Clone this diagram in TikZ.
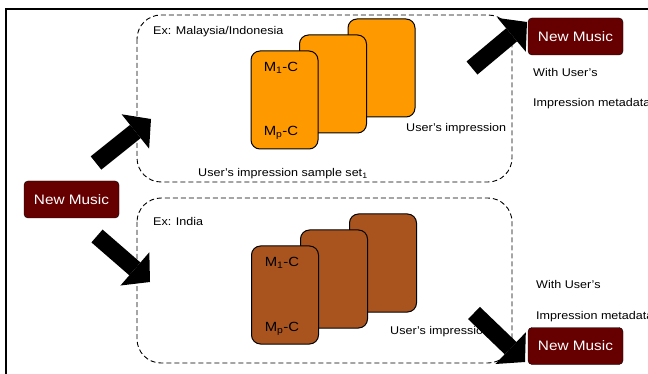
\documentclass[tikz,border=0pt]{standalone}
\usepackage{fontspec}
\setmainfont{Liberation Sans}[FakeStretch=1.12]
\usetikzlibrary{arrows.meta}
\definecolor{nmred}{HTML}{660000}
\definecolor{cardorange}{HTML}{FF9900}
\definecolor{cardbrown}{HTML}{A9541F}
\tikzset{
  musicbox/.style={draw=black,fill=nmred,text=white,rounded corners=4pt,
    minimum width=95pt,minimum height=37pt,font=\fontsize{13.7}{16}\selectfont},
  card/.style={draw=black,line width=1pt,rounded corners=9pt,
    minimum width=67pt,minimum height=98pt},
  region/.style={draw=black,line width=0.9pt,dash pattern=on 5pt off 3pt,rounded corners=24pt},
  lbl/.style={anchor=west,inner sep=0pt,text=black,font=\fontsize{11.2}{13}\selectfont},
  mlbl/.style={inner sep=0pt,text=black,font=\fontsize{13.3}{15}\selectfont},
  blockarrow/.style={line width=17pt,-{Triangle[length=20pt,width=44pt,line width=0pt]}},
}
\begin{document}
\begin{tikzpicture}[x=1pt,y=-1pt]
 \useasboundingbox (0,0) rectangle (648,374);
 \clip (0,0) rectangle (648,374);
 \draw[line width=1.6pt] (6,380) -- (6,9) -- (660,9);
 % sample regions
 \draw[region] (137,15) rectangle (512,182);
 \draw[region] (137,198) rectangle (512,363);
 % cards, upper set
 \node[card,fill=cardorange] (oback) at (381.5,68) {};
 \node[card,fill=cardorange] (omid) at (333,84) {};
 \node[card,fill=cardorange] (ofront) at (284.5,100) {};
 \node[mlbl] (om1) at (281,68) {M\textsubscript{1}-C};
 \node[mlbl] (omp) at (281,133) {M\textsubscript{p}-C};
 % cards, lower set
 \node[card,fill=cardbrown] (bback) at (383,263) {};
 \node[card,fill=cardbrown] (bmid) at (334,279) {};
 \node[card,fill=cardbrown] (bfront) at (285,295) {};
 \node[mlbl] (bm1) at (282,263) {M\textsubscript{1}-C};
 \node[mlbl] (bmp) at (282,329) {M\textsubscript{p}-C};
 % texts
 \node[lbl] (exmy) at (153,32) {Ex: Malaysia/Indonesia};
 \node[lbl] (exin) at (153,221) {Ex: India};
 \node[lbl] (uio) at (406,129) {User’s impression};
 \node[lbl] (uib) at (390,332) {User’s impression};
 \node[lbl] (sset) at (198,174) {User’s impression sample set\textsubscript{1}};
 \node[lbl] (wu1) at (533,72) {With User’s};
 \node[lbl] (im1) at (533,104) {Impression metadata};
 \node[lbl] (wu2) at (536,284) {With User’s};
 \node[lbl] (im2) at (536,317) {Impression metadata};
 % music boxes
 \node[musicbox] (nmin) at (71.5,199.5) {New Music};
 \node[musicbox] (nmtop) at (575.5,36.5) {New Music};
 \node[musicbox] (nmbot) at (575.5,346) {New Music};
 % arrows
 \coordinate (t1) at (96,163); \coordinate (h1) at (151,119);
 \coordinate (t2) at (97,236); \coordinate (h2) at (150,282);
 \coordinate (t3) at (472,68); \coordinate (h3) at (527,22);
 \coordinate (t4) at (474,313); \coordinate (h4) at (525,362);
 \draw[blockarrow] (t1) -- (h1);
 \draw[blockarrow] (t2) -- (h2);
 \draw[blockarrow] (t3) -- (h3);
 \draw[blockarrow] (t4) -- (h4);
\end{tikzpicture}
\end{document}
